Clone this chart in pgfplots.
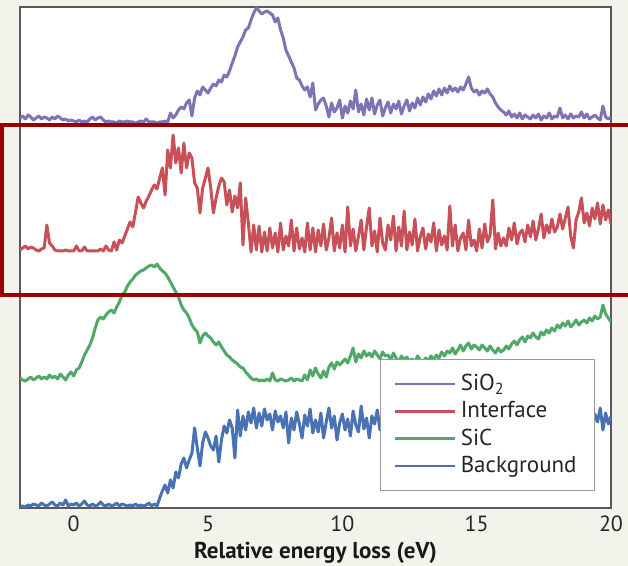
\documentclass[border=0pt]{standalone}
\usepackage{pgfplots}
\pgfplotsset{compat=1.18}
\usepackage{pgfplotstable}
\usepackage{fontspec}
\setmainfont{PT Sans}

\definecolor{pagecream}{RGB}{244,243,235}
\definecolor{csio}{RGB}{128,115,181}
\definecolor{cint}{RGB}{200,80,88}
\definecolor{csic}{RGB}{80,168,105}
\definecolor{cbg}{RGB}{72,114,180}
\definecolor{boxred}{RGB}{155,0,0}

% Offset EELS spectra: x = relative energy loss (eV), columns are stacked intensities
\pgfplotstableread{
x P R G B
-2.0 390 258 130 1
-1.9 392 260 128 2
-1.8 389 262 127 1
-1.7 393 259 129 3
-1.6 391 261 131 2
-1.5 388 260 128 4
-1.4 390 258 130 3
-1.3 392 257 132 2
-1.2 389 259 129 5
-1.1 391 260 131 3
-1.0 390 283 129 2
-0.9 388 265 133 4
-0.8 391 262 130 6
-0.7 389 258 132 3
-0.6 392 257 129 2
-0.5 390 257 134 5
-0.4 388 257 131 3
-0.3 389 258 128 8
-0.2 387 257 133 2
-0.1 388 257 136 4
0.0 387 257 132 3
0.1 386 262 138 5
0.2 388 257 140 2
0.3 386 257 146 4
0.4 387 261 153 7
0.5 386 257 158 3
0.6 389 257 163 2
0.7 391 257 170 4
0.8 388 257 180 2
0.9 390 257 188 3
1.0 391 259 191 6
1.1 388 257 189 3
1.2 386 262 193 2
1.3 387 258 196 4
1.4 386 257 198 2
1.5 386 266 195 3
1.6 385 258 201 5
1.7 387 268 206 2
1.8 386 265 213 4
1.9 386 272 216 3
2.0 387 279 222 2
2.1 386 286 226 3
2.2 386 281 229 2
2.3 385 296 233 4
2.4 386 311 235 2
2.5 387 305 237 3
2.6 386 300 238 2
2.7 389 307 240 3
2.8 386 312 242 5
2.9 386 318 243 2
3.0 386 323 241 4
3.1 385 319 244 2
3.2 386 330 240 10
3.3 386 340 237 17
3.4 387 313 235 23
3.5 386 358 231 15
3.6 395 340 226 28
3.7 390 373 221 20
3.8 393 345 216 36
3.9 398 360 211 30
4.0 401 335 203 44
4.1 399 365 198 50
4.2 405 340 195 40
4.3 408 355 190 48
4.4 392 350 183 55
4.5 410 325 179 80
4.6 417 320 176 60
4.7 413 295 165 42
4.8 421 320 172 65
4.9 418 330 175 76
5.0 415 340 172 70
5.1 420 320 170 62
5.2 424 295 166 58
5.3 422 310 163 72
5.4 428 322 166 46
5.5 426 330 161 68
5.6 433 326 157 82
5.7 431 303 153 75
5.8 437 318 151 88
5.9 445 296 148 80
6.0 452 312 146 50
6.1 461 300 144 98
6.2 466 325 141 72
6.3 471 263 140 92
6.4 478 310 136 78
6.5 480 285 133 96
6.6 488 256 130 85
6.7 495 283 128 100
6.8 500 258 129 80
6.9 497 282 127 95
7.0 494 256 128 82
7.1 496 276 127 99
7.2 497 257 129 88
7.3 495 280 127 94
7.4 493 260 135 78
7.5 486 275 128 97
7.6 490 256 127 86
7.7 478 285 129 92
7.8 470 258 128 80
7.9 458 272 127 96
8.0 452 262 128 65
8.1 446 288 130 90
8.2 440 257 127 78
8.3 430 280 129 96
8.4 428 259 128 84
8.5 422 270 127 70
8.6 418 256 133 93
8.7 421 285 128 82
8.8 411 258 138 99
8.9 425 280 132 75
9.0 398 256 140 88
9.1 404 278 134 76
9.2 408 262 130 95
9.3 410 284 137 70
9.4 402 258 131 86
9.5 391 270 141 100
9.6 405 290 145 80
9.7 396 257 139 92
9.8 400 275 146 68
9.9 408 260 143 85
10.0 390 283 146 94
10.1 402 256 149 78
10.2 395 301 145 89
10.3 407 262 152 72
10.4 399 279 160 97
10.5 418 257 146 83
10.6 396 272 154 76
10.7 404 288 150 102
10.8 393 258 157 79
10.9 409 281 152 90
11.0 398 300 155 70
11.1 410 262 151 92
11.2 394 277 157 84
11.3 403 256 153 98
11.4 408 290 149 78
11.5 392 265 156 87
11.6 400 258 152 82
11.7 406 283 153 95
11.8 395 268 148 80
11.9 404 292 155 88
12.0 399 257 150 85
12.1 407 281 146 92
12.2 394 262 152 80
12.3 402 297 148 94
12.4 408 258 151 83
12.5 397 276 147 90
12.6 405 263 149 78
12.7 400 289 146 96
12.8 410 257 152 86
12.9 403 271 148 84
13.0 411 280 146 91
13.1 406 259 150 82
13.2 414 274 147 95
13.3 409 266 152 80
13.4 417 285 148 88
13.5 412 257 153 97
13.6 419 278 150 83
13.7 413 263 156 90
13.8 420 272 152 86
13.9 415 258 157 93
14.0 422 302 155 80
14.1 417 262 160 96
14.2 420 283 154 85
14.3 416 257 158 90
14.4 421 270 163 82
14.5 418 275 157 94
14.6 424 258 162 88
14.7 431 288 165 79
14.8 420 262 159 92
14.9 416 268 163 86
15.0 418 257 161 95
15.1 413 279 158 84
15.2 417 260 163 90
15.3 415 284 160 80
15.4 419 266 157 98
15.5 414 273 162 87
15.6 411 308 158 93
15.7 405 259 155 82
15.8 401 275 160 89
15.9 398 262 156 96
16.0 396 270 158 84
16.1 393 262 162 92
16.2 397 280 159 80
16.3 391 268 164 95
16.4 394 285 167 88
16.5 390 264 163 83
16.6 395 275 168 97
16.7 389 278 171 86
16.8 393 266 166 90
16.9 391 283 172 82
17.0 389 271 170 94
17.1 393 287 175 87
17.2 390 268 171 80
17.3 394 279 169 96
17.4 388 294 176 85
17.5 392 270 173 91
17.6 390 283 178 83
17.7 395 275 175 98
17.8 389 289 180 88
17.9 392 276 177 92
18.0 391 281 183 86
18.1 400 294 180 95
18.2 390 279 185 82
18.3 393 290 182 90
18.4 389 301 187 97
18.5 394 272 181 84
18.6 390 260 184 92
18.7 392 288 188 88
18.8 391 296 183 100
18.9 396 310 186 85
19.0 390 285 188 96
19.1 394 295 185 88
19.2 389 282 190 103
19.3 391 300 187 80
19.4 393 289 192 94
19.5 390 305 189 86
19.6 388 284 191 100
19.7 402 303 203 78
19.8 391 288 194 95
19.9 389 298 190 84
20.0 391 284 186 92
}\spectra

\begin{document}
\begin{tikzpicture}
\useasboundingbox[fill=pagecream] (0,0) rectangle (314pt,283pt);
\begin{axis}[
  at={(10pt,29pt)}, anchor=south west,
  scale only axis, width=295.5pt, height=250.5pt,
  xmin=-2, xmax=20, ymin=0, ymax=501,
  xtick={0,5,10,15,20}, ytick=\empty,
  major tick length=0pt,
  axis line style={draw=black!65, line width=0.7pt},
  axis background/.style={fill=white},
  /pgf/number format/assume math mode=true,
  xticklabel style={font=\fontsize{11}{13}\selectfont, text=black!85, anchor=base, yshift=-12pt},
  xlabel={\bfseries Relative energy loss (eV)},
  xlabel style={font=\fontsize{11.5}{13}\selectfont, text=black!90, at={(axis description cs:0.5,0)}, anchor=base, yshift=-25.5pt},
  legend style={at={(axis description cs:1,0)}, anchor=south east, xshift=-8pt, yshift=8.5pt,
    draw=black!40, fill=white, font=\fontsize{11.5}{13.5}\selectfont, text=black!85,
    inner xsep=7pt, inner ysep=5.5pt, row sep=0pt, cells={anchor=west}},
  legend image code/.code={\draw[#1, line width=1.3pt] (0pt,0pt) -- (30pt,0pt);},
  every axis plot/.append style={line width=1.5pt, line join=round},
]
\addplot[csio] table[x=x, y=P] {\spectra};
\addlegendentry{SiO\textsubscript{2}}
\addplot[cint] table[x=x, y=R] {\spectra};
\addlegendentry{Interface}
\addplot[csic] table[x=x, y=G] {\spectra};
\addlegendentry{SiC}
\addplot[cbg] table[x=x, y=B] {\spectra};
\addlegendentry{Background}
\end{axis}
% highlight frame around the interface spectrum
\draw[boxred, line width=2pt] (1pt,135.25pt) rectangle (330pt,220.25pt);
\end{tikzpicture}
\end{document}
